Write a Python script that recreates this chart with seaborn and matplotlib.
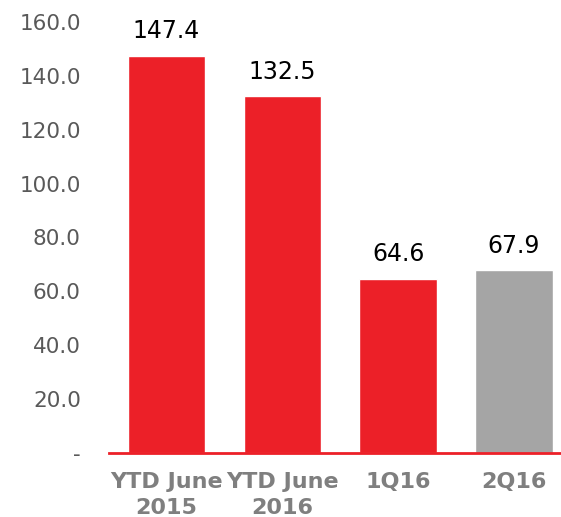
import matplotlib
matplotlib.use("Agg")
import matplotlib.pyplot as plt
import seaborn as sns
from matplotlib.ticker import FuncFormatter

# Données
categories = ["YTD June\n2015", "YTD June\n2016", "1Q16", "2Q16"]
valeurs = [147.4, 132.5, 64.6, 67.9]
couleurs = ["#EC2028", "#EC2028", "#EC2028", "#A5A5A5"]
yticks = [0, 20, 40, 60, 80, 100, 120, 140, 160]

sns.set_style("white")
plt.rcParams['font.family'] = ['DejaVu Sans']

fig = plt.figure(figsize=(5.61, 5.17), dpi=100)
ax = fig.add_axes([0.1935, 0.1238, 0.826, 0.8337])

sns.barplot(x=categories, y=valeurs, hue=categories, palette=couleurs,
            width=0.67, legend=False, saturation=1, ax=ax)

ax.set_xlim(-0.5, 3.5)
ax.set_ylim(0, 160)
ax.set_yticks(yticks)
ax.yaxis.set_major_formatter(FuncFormatter(lambda v, p: "-" if v == 0 else f"{v:.1f}"))

# Étiquettes des valeurs
for cont in ax.containers:
    ax.bar_label(cont, fmt="%.1f", padding=9, fontsize=17, color="black")

ax.tick_params(axis="y", labelsize=15.5, labelcolor="#595959", length=0, pad=20)
ax.tick_params(axis="x", labelsize=16, labelcolor="#7F7F7F", length=0, pad=14)
for lab in ax.get_xticklabels():
    lab.set_fontweight("bold")
    lab.set_linespacing(1.35)

ax.set_xlabel("")
ax.set_ylabel("")
sns.despine(ax=ax, left=True, top=True, right=True)
ax.spines["bottom"].set_color("#EC2028")
ax.spines["bottom"].set_linewidth(2)

plt.savefig("out.png", dpi=100)
